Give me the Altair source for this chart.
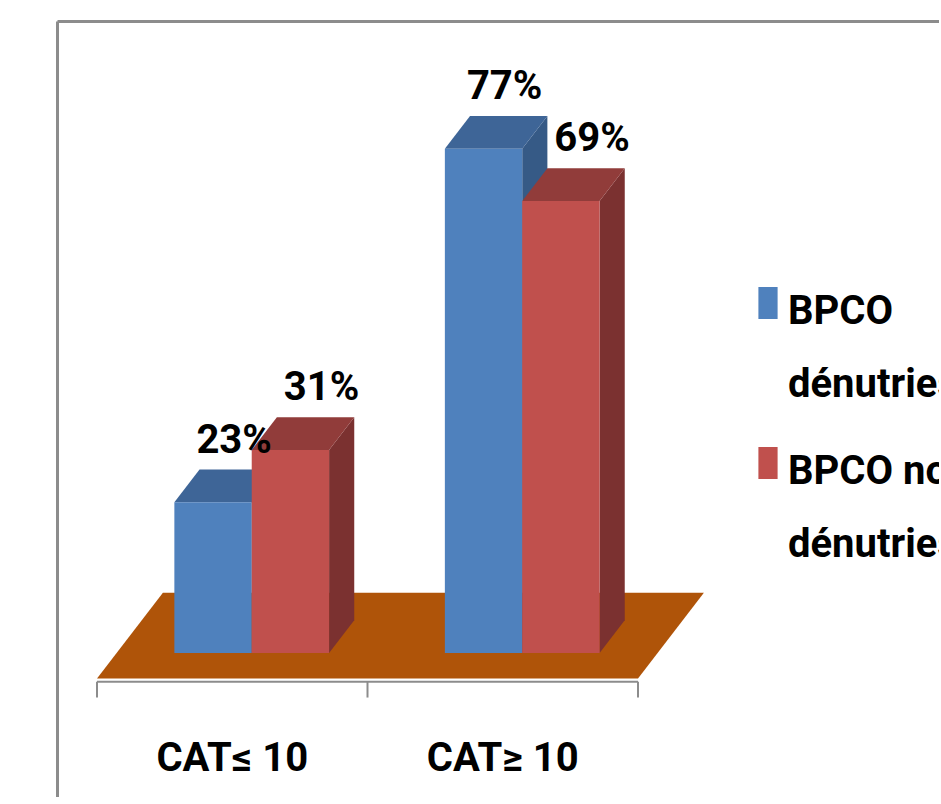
import altair as alt
import pandas as pd

# ---- chart values ----
categories = ["CAT≤ 10", "CAT≥ 10"]
series = ["BPCO dénutries", "BPCO non dénutries"]
pct_denutries = [23, 77]
pct_non_denutries = [31, 69]
series_values = [pct_denutries, pct_non_denutries]

# ---- styling ----
FONT = "Roboto, Liberation Sans, sans-serif"
FONT_SIZE = 40
front_colors = ["#4F81BD", "#C0504D"]
top_colors = ["#3E6597", "#913C3A"]
side_colors = ["#365A86", "#7B3130"]
floor_color = "#AF5409"
frame_color = "#8C8C8C"
label_shift = [-0.015, 0.022]   # horizontal nudge of the value labels per series

# ---- pseudo-3D geometry (x in category units, y in percent) ----
CAT_CENTERS = [0.5, 1.5]
GROUP_START = -0.214   # first bar's left edge relative to the category centre
BAR_W = 0.286
DEPTH_X = 0.093        # shift of a bar's back face
DEPTH_Y = 5.0
FLOOR_NEAR = -0.78     # floor depth span, in bar depths
FLOOR_FAR = 1.84
AXIS_Y = -4.4
TICK_Y2 = -6.8

W, H = 882, 776
PX_PER_U = 270.5
PX_PER_PCT = 6.55
u_min = -40 / PX_PER_U
u_max = u_min + W / PX_PER_U
v_max = 632 / PX_PER_PCT
v_min = v_max - H / PX_PER_PCT
xs = alt.Scale(domain=[u_min, u_max], nice=False, zero=False)
ys = alt.Scale(domain=[v_min, v_max], nice=False, zero=False)

frame_x = alt.Axis(orient="top", labels=False, ticks=False, grid=False, title=None,
                   domainColor=frame_color, domainWidth=3)
frame_y = alt.Axis(orient="left", labels=False, ticks=False, grid=False, title=None,
                   domainColor=frame_color, domainWidth=3)


def X(field, **kw):
    return alt.X(field, type="quantitative", scale=xs, axis=frame_x, **kw)


def Y(field, **kw):
    return alt.Y(field, type="quantitative", scale=ys, axis=frame_y, **kw)


# ---- build faces from the values ----
fronts, tops, sides, labels = [], [], [], []
for i, (cat, c) in enumerate(zip(categories, CAT_CENTERS)):
    for j, ser in enumerate(series):
        v = series_values[j][i]
        x0 = c + GROUP_START + j * BAR_W
        x1 = x0 + BAR_W
        bar = f"{i}-{j}"
        fronts.append(dict(series=ser, x0=x0, x1=x1, y0=0, y1=v))
        tops.append(dict(bar=bar, fill=top_colors[j], y=v, xa=x0, xb=x1))
        tops.append(dict(bar=bar, fill=top_colors[j], y=v + DEPTH_Y,
                         xa=x0 + DEPTH_X, xb=x1 + DEPTH_X))
        sides.append(dict(bar=bar, fill=side_colors[j], x=x1, ya=0, yb=v))
        sides.append(dict(bar=bar, fill=side_colors[j], x=x1 + DEPTH_X,
                          ya=DEPTH_Y, yb=v + DEPTH_Y))
        labels.append(dict(series=ser, text=f"{v}%",
                           x=(x0 + x1) / 2 + DEPTH_X + label_shift[j],
                           y=v + DEPTH_Y))

span = (FLOOR_FAR - FLOOR_NEAR)
floor = pd.DataFrame([
    dict(y=FLOOR_NEAR * DEPTH_Y, xa=0.0, xb=2.0),
    dict(y=FLOOR_FAR * DEPTH_Y, xa=span * DEPTH_X, xb=2.0 + span * DEPTH_X),
])
axis_line = pd.DataFrame([dict(x=0.0, x2=2.0, y=AXIS_Y)])
ticks = pd.DataFrame([dict(x=float(k), y=AXIS_Y, y2=TICK_Y2) for k in range(3)])
cat_labels = pd.DataFrame(dict(x=CAT_CENTERS, y=[AXIS_Y] * 2, text=categories))

floor_layer = alt.Chart(floor).mark_area(orient="horizontal", color=floor_color).encode(
    y=Y("y"), x=X("xa"), x2="xb")

side_layer = alt.Chart(pd.DataFrame(sides)).mark_area().encode(
    x=X("x"), y=Y("ya"), y2="yb", detail="bar:N",
    color=alt.Color("fill:N", scale=None))

top_layer = alt.Chart(pd.DataFrame(tops)).mark_area(orient="horizontal").encode(
    y=Y("y"), x=X("xa"), x2="xb", detail="bar:N",
    color=alt.Color("fill:N", scale=None))

front_layer = alt.Chart(pd.DataFrame(fronts)).mark_rect().encode(
    x=X("x0"), x2="x1", y=Y("y0"), y2="y1",
    color=alt.Color(
        "series:N",
        scale=alt.Scale(domain=series, range=front_colors),
        legend=alt.Legend(
            orient="none", legendX=691, legendY=262, title=None,
            symbolType="M-0.6,-1H0.6V1H-0.6Z", symbolSize=1024,
            symbolStrokeWidth=0, labelFont=FONT, labelFontSize=FONT_SIZE,
            labelFontWeight="bold", labelColor="black", labelLimit=1000,
            labelOffset=0, rowPadding=38,
            labelExpr="[slice(datum.label, 0, lastindexof(datum.label, ' ')),"
                      " slice(datum.label, lastindexof(datum.label, ' ') + 1)]",
        ),
    ),
)

value_labels = alt.Chart(pd.DataFrame(labels)).mark_text(
    font=FONT, fontSize=FONT_SIZE, fontWeight="bold", color="black",
    baseline="alphabetic", dy=-17).encode(x=X("x"), y=Y("y"), text="text:N")

axis_rule = alt.Chart(axis_line).mark_rule(color=frame_color, strokeWidth=2).encode(
    x=X("x"), x2="x2", y=Y("y"))
tick_rules = alt.Chart(ticks).mark_rule(color=frame_color, strokeWidth=2).encode(
    x=X("x"), y=Y("y"), y2="y2")
cat_text = alt.Chart(cat_labels).mark_text(
    font=FONT, fontSize=FONT_SIZE, fontWeight="bold", color="black",
    baseline="alphabetic", dy=89).encode(x=X("x"), y=Y("y"), text="text:N")

chart = alt.layer(
    floor_layer, side_layer, top_layer, front_layer,
    value_labels, axis_rule, tick_rules, cat_text,
).properties(
    width=W, height=H,
    autosize=alt.AutoSizeParams(type="none"),
    padding={"left": 57, "top": 21, "right": 0, "bottom": 0},
).configure_view(stroke=None).configure(
    background="white",
    style={"guide-label": {"lineHeight": 73, "dy": 9}},
)

chart.save("out.html", embed_options={"renderer": "svg", "actions": False})
